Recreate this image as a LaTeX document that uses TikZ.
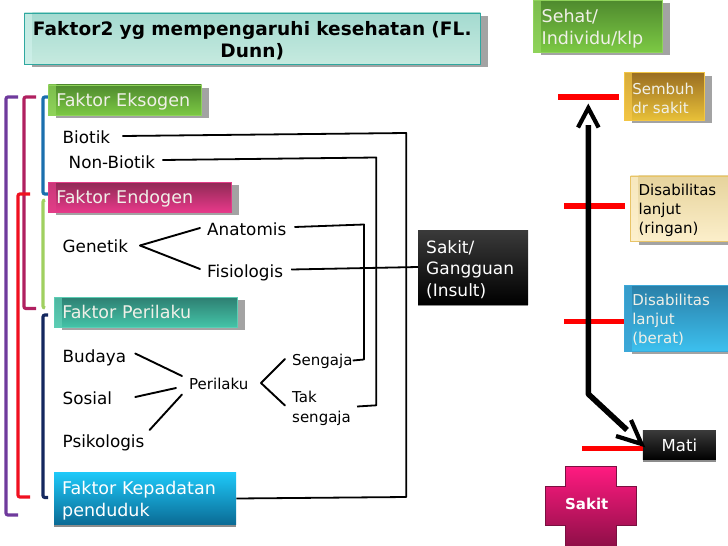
\documentclass[tikz,border=0pt]{standalone}
\usepackage{fontspec}
\setmainfont{DejaVu Sans}
\newfontfamily\titlefont[LetterSpace=0.6]{DejaVu Sans}
\usetikzlibrary{shadows}
\definecolor{boxshadow}{HTML}{A3A3A3}
\definecolor{paleteal}{HTML}{2FA8A0}
\definecolor{tealstrip}{HTML}{CDEFE8}
\definecolor{tealtop}{HTML}{A4DAD0}
\definecolor{tealbot}{HTML}{C6EADF}
\definecolor{leaf}{HTML}{8FD35A}
\definecolor{leaftop}{HTML}{4F8A2E}
\definecolor{leafbot}{HTML}{7CC944}
\definecolor{rose}{HTML}{E23D88}
\definecolor{rosetop}{HTML}{8F2A55}
\definecolor{rosebot}{HTML}{E8398A}
\definecolor{sea}{HTML}{5CCDB4}
\definecolor{seatop}{HTML}{2E7F72}
\definecolor{seabot}{HTML}{44C4A8}
\definecolor{skytop}{HTML}{1EC8F8}
\definecolor{skybot}{HTML}{0A6A94}
\definecolor{blacktop}{HTML}{3A3A3A}
\definecolor{gold}{HTML}{F2C544}
\definecolor{goldtop}{HTML}{9A6E22}
\definecolor{goldbot}{HTML}{E8C038}
\definecolor{sand}{HTML}{E8C468}
\definecolor{sandstrip}{HTML}{FDF0CC}
\definecolor{sandtop}{HTML}{E6D39C}
\definecolor{sandbot}{HTML}{FCEFCB}
\definecolor{lake}{HTML}{3CA8D8}
\definecolor{laketop}{HTML}{2A7FA8}
\definecolor{lakebot}{HTML}{3CC0EE}
\definecolor{crosstop}{HTML}{FF1A80}
\definecolor{crossbot}{HTML}{8F0F48}
\definecolor{crossedge}{HTML}{7A1040}
\definecolor{brpurple}{HTML}{6F3A9C}
\definecolor{brmagenta}{HTML}{B02060}
\definecolor{brred}{HTML}{F01020}
\definecolor{brblue}{HTML}{1A6FAE}
\definecolor{brgreen}{HTML}{A0D060}
\definecolor{brnavy}{HTML}{14285F}
\definecolor{softwhite}{HTML}{F0F0E8}

\tikzset{
    % box with a lighter strip at its left side
    panel/.style n args={5}{
        draw=#1, line width=0.6pt, top color=#2!70!#3, bottom color=#2, anchor=north west, inner xsep=8pt, inner ysep=0pt,
        align=left, text=#5, font=\fontsize{17.5}{22}\selectfont,
        general shadow={fill=boxshadow, shadow xshift=8pt, shadow yshift=-3pt},
        path picture={\shade[top color=#3, bottom color=#4]
            ([xshift=8pt]path picture bounding box.north west) rectangle (path picture bounding box.south east);}
    },
    % box with a soft shadow only
    plate/.style n args={2}{
        anchor=north west, top color=#1, bottom color=#2, inner xsep=8pt, inner ysep=0pt,
        align=left, text=white, font=\fontsize{17.5}{22}\selectfont,
        general shadow={fill=black!45, shadow xshift=0pt, shadow yshift=-2pt}
    },
    % text sits a little under the middle of its box
    lowered/.style={execute at begin node={\rule{0pt}{1em}}},
    oneline/.style={text depth=0pt},
    itemtext/.style={anchor=west, inner xsep=0pt, inner ysep=1pt, text height=12pt, text depth=0pt, font=\fontsize{16.8}{20}\selectfont},
    itemsmall/.style={anchor=west, inner xsep=0pt, inner ysep=1pt, text height=10.5pt, text depth=0pt, font=\fontsize{15}{20}\selectfont},
    itemtwo/.style={anchor=west, inner xsep=0pt, inner ysep=1pt, align=left, font=\fontsize{15}{20}\selectfont},
    wire/.style={line width=1.8pt, black, line join=round},
    branch/.style={line width=1.9pt, black, line cap=round},
    bracket/.style={line width=3.2pt, rounded corners=2pt},
    tick/.style={line width=5.5pt, red},
    course/.style={line width=5.6pt, black},
    coursehead/.style={line width=4.2pt, black}
}

\begin{document}
\begin{tikzpicture}[x=1pt, y=-1pt]
    \useasboundingbox (0, 0) rectangle (728, 546);

    % Title
    \node[panel={paleteal}{tealstrip}{tealtop}{tealbot}{black}, lowered, minimum width=456pt, minimum height=51pt, text width=440pt, align=center,
          font=\titlefont\bfseries\fontsize{18.5}{22}\selectfont] (title) at (24, 12.5)
          {Faktor2 yg mempengaruhi kesehatan (FL.\\Dunn)};

    % Left brackets
    \draw[bracket, color=brpurple] (18, 97) -- (6, 97) -- (6, 515) -- (18, 515);
    \draw[bracket, color=brmagenta] (36, 97) -- (24, 97) -- (24, 308.5) -- (36, 308.5);
    \draw[bracket, color=brred] (30, 194) -- (18, 194) -- (18, 497) -- (30, 497);
    \draw[bracket, color=brblue] (48, 97) -- (43, 97) -- (43, 194) -- (48, 194);
    \draw[bracket, color=brgreen] (45, 200) -- (43, 200) -- (43, 308) -- (45, 308);
    \draw[bracket, color=brnavy] (48, 315) -- (43, 315) -- (43, 497.5) -- (48, 497.5);

    % Factor boxes
    \node[panel={leaf}{leaf}{leaftop}{leafbot}{softwhite}, oneline, minimum width=153pt, minimum height=30.5pt, text width=137pt] (eksogen) at (48, 84.5) {Faktor Eksogen};
    \node[panel={rose}{rose}{rosetop}{rosebot}{softwhite}, oneline, minimum width=183pt, minimum height=30pt, text width=167pt] (endogen) at (48, 182) {Faktor Endogen};
    \node[panel={sea}{sea}{seatop}{seabot}{softwhite}, oneline, minimum width=183pt, minimum height=30pt, text width=167pt] (perilaku) at (54, 297) {Faktor Perilaku};
    \node[plate={skytop}{skybot}, lowered, minimum width=182pt, minimum height=52pt, text width=166pt] (kepadatan) at (54, 472.7) {Faktor Kepadatan\\penduduk};
    \node[plate={blacktop}{black}, lowered, minimum width=110pt, minimum height=74pt, text width=94pt, font=\fontsize{17}{21.5}\selectfont] (insult) at (418, 230) {Sakit/\\Gangguan\\(Insult)};

    % Factor items
    \node[itemtext] (biotik) at (62.5, 137) {Biotik};
    \node[itemtext] (nonbiotik) at (68.5, 162) {Non-Biotik};
    \node[itemtext] (genetik) at (62.5, 246) {Genetik};
    \node[itemtext] (anatomis) at (207, 229) {Anatomis};
    \node[itemtext] (fisiologis) at (207, 271) {Fisiologis};
    \node[itemtext] (budaya) at (62.5, 356) {Budaya};
    \node[itemtext] (sosial) at (62.5, 398) {Sosial};
    \node[itemtext] (psikologis) at (62.5, 441) {Psikologis};
    \node[itemsmall] (perilakuitem) at (189, 384.5) {Perilaku};
    \node[itemsmall] (sengaja) at (292, 360.5) {Sengaja};
    \node[itemtwo] (taksengaja) at (292, 408.5) {Tak\\sengaja};

    % Corners of the long lines
    \coordinate (c1) at (406.3, 133);
    \coordinate (c2) at (406.3, 497);
    \coordinate (c3) at (376.3, 157.5);
    \coordinate (c4) at (376.3, 405.3);
    \coordinate (c5) at (364, 224.5);
    \coordinate (c6) at (364, 359.5);

    % Long lines
    \draw[wire] ([xshift=12pt, yshift=1pt]biotik.east) -- (c1) -- (c2) -- (kepadatan.east |- 0, 498.5);
    \draw[wire] ([xshift=7pt, yshift=2pt]nonbiotik.east) -- (c3) -- (c4) -- ([xshift=6pt, yshift=2pt]taksengaja.east);
    \draw[wire] ([xshift=8pt, yshift=2pt]anatomis.east) -- (c5) -- (c6) -- (sengaja.east);
    \draw[wire] ([xshift=8pt, yshift=1.5pt]fisiologis.east) -- (insult.west |- 0, 267);

    % Short branches
    \coordinate (gen) at (140, 245.5);
    \coordinate (peri) at (261, 383);
    \draw[branch] (gen) -- ([xshift=-7pt, yshift=1pt]anatomis.west);
    \draw[branch] (gen) -- ([xshift=-7pt, yshift=2pt]fisiologis.west);
    \draw[branch] ([xshift=9pt, yshift=2.5pt]budaya.east) -- ([xshift=-7pt, yshift=8.5pt]perilakuitem.west);
    \draw[branch] ([xshift=23pt, yshift=1pt]sosial.east) -- ([xshift=-13pt, yshift=-3.5pt]perilakuitem.west);
    \draw[branch] ([xshift=5pt, yshift=11pt]psikologis.east) -- ([xshift=-7pt, yshift=-10pt]perilakuitem.west);
    \draw[branch] (peri) -- ([xshift=-7pt, yshift=1.5pt]sengaja.west);
    \draw[branch] (peri) -- ([xshift=-7pt, yshift=3pt]taksengaja.west);

    % Right column
    \node[panel={leaf}{leaf}{leaftop}{leafbot}{softwhite}, lowered, minimum width=128.7pt, minimum height=51.7pt, text width=112pt] (sehat) at (533, 0) {Sehat/\\Individu/klp};
    \node[panel={gold}{gold}{goldtop}{goldbot}{softwhite}, lowered, minimum width=80pt, minimum height=47.4pt, text width=64pt, font=\fontsize{15}{19}\selectfont] (sembuh) at (624, 72.3) {Sembuh\\dr sakit};
    \node[panel={sand}{sandstrip}{sandtop}{sandbot}{black}, lowered, minimum width=110pt, minimum height=65.8pt, text width=94pt, font=\fontsize{15}{19}\selectfont] (ringan) at (630.3, 175.5) {Disabilitas\\lanjut\\(ringan)};
    \node[panel={lake}{lake}{laketop}{lakebot}{softwhite}, lowered, minimum width=116pt, minimum height=65.7pt, text width=100pt, font=\fontsize{15}{19}\selectfont] (berat) at (624, 285) {Disabilitas\\lanjut\\(berat)};
    \node[plate={blacktop}{black}, minimum width=73pt, minimum height=29.4pt, align=center, text width=57pt, font=\fontsize{16.5}{19}\selectfont] (mati) at (642.7, 430.3) {Mati};

    % Red ticks
    \coordinate (t1) at (558, 97);
    \coordinate (t2) at (564, 206);
    \coordinate (t3) at (564, 321.3);
    \coordinate (t4) at (582, 448.7);
    \draw[tick] (t1) -- (619, 97);
    \draw[tick] (t2) -- (625, 206);
    \draw[tick] (t3) -- (berat.west |- t3);
    \draw[tick] (t4) -- (mati.west |- t4);

    % Course of the illness
    \coordinate (bend) at (588.3, 394);
    \coordinate (shafttop) at (588.3, 125);
    \coordinate (best) at (588.3, 108);
    \coordinate (shaftend) at (627, 430);
    \coordinate (worst) at (641.5, 444);
    \draw[course, line join=bevel] (shafttop) -- (bend) -- (shaftend);
    \draw[coursehead] (578, 127.5) -- (best) -- (598.6, 127.5);
    \draw[coursehead] (631, 420) -- (worst) -- (616, 436);

    % Cross
    \shade[top color=crosstop, bottom color=crossbot, draw=crossedge, line width=0.6pt]
        (565.3, 466.7) -- (616.7, 466.7) -- (616.7, 486.3) -- (636.7, 486.3) -- (636.7, 525.7) -- (616.7, 525.7)
        -- (616.7, 546) -- (565.3, 546) -- (565.3, 525.7) -- (545.7, 525.7) -- (545.7, 486.3) -- (565.3, 486.3) -- cycle;
    \node[text=white, font=\bfseries\fontsize{15}{18}\selectfont] (sakit) at (586.7, 504) {Sakit};
\end{tikzpicture}
\end{document}
